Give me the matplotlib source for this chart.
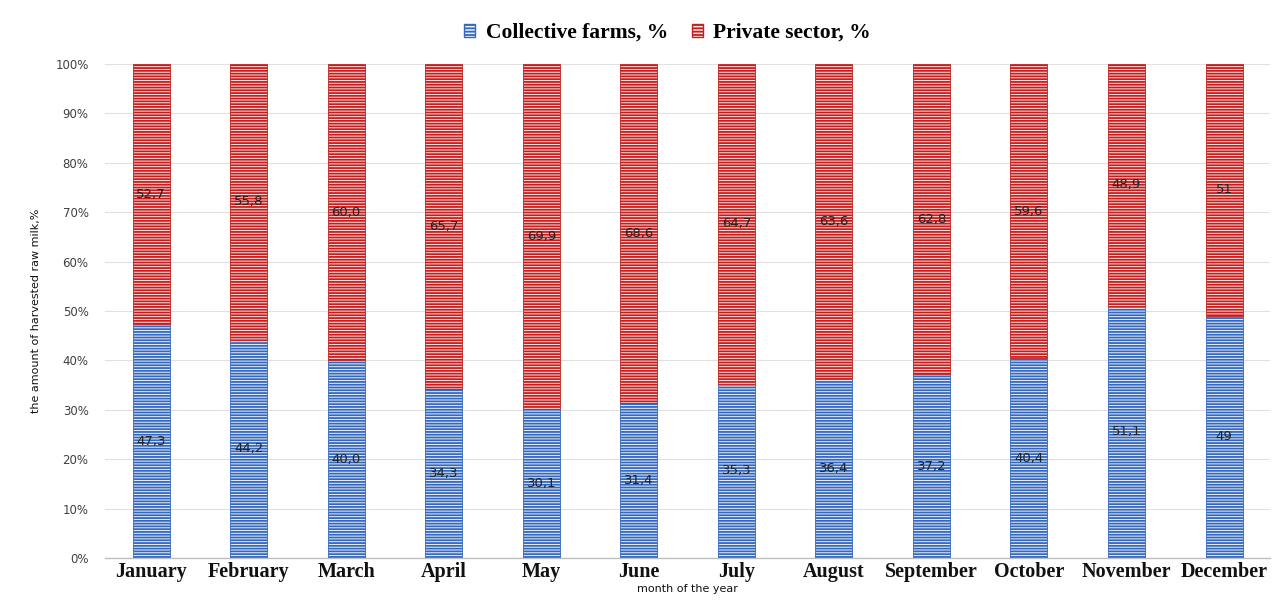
import matplotlib
matplotlib.use("Agg")
import matplotlib.pyplot as plt
import numpy as np
from matplotlib.patches import Patch

months = ["January", "February", "March", "April", "May", "June", "July",
          "August", "September", "October", "November", "December"]
collective = [47.3, 44.2, 40.0, 34.3, 30.1, 31.4, 35.3, 36.4, 37.2, 40.4, 51.1, 49]
private = [52.7, 55.8, 60.0, 65.7, 69.9, 68.6, 64.7, 63.6, 62.8, 59.6, 48.9, 51]
collective_labels = ["47,3", "44,2", "40,0", "34,3", "30,1", "31,4", "35,3",
                     "36,4", "37,2", "40,4", "51,1", "49"]
private_labels = ["52,7", "55,8", "60,0", "65,7", "69,9", "68,6", "64,7",
                  "63,6", "62,8", "59,6", "48,9", "51"]
yticks = [0, 10, 20, 30, 40, 50, 60, 70, 80, 90, 100]

plt.rcParams['hatch.linewidth'] = 1.3

fig = plt.figure(figsize=(12.84, 6.01), dpi=100)
ax = fig.add_axes([0.082, 0.0715, 0.907, 0.822])

x = np.arange(len(months))
w = 0.38
blue_edge = "#3368bd"
red_edge = "#c41e1e"
b1 = ax.bar(x, collective, w, facecolor="#eef2f9", edgecolor=blue_edge,
            hatch="------", linewidth=0.6, zorder=3)
b2 = ax.bar(x, private, w, bottom=collective, facecolor="#f9e6e6",
            edgecolor=red_edge, hatch="------", linewidth=0.6, zorder=3)

for i in range(len(months)):
    ax.text(x[i], collective[i] / 2, collective_labels[i], ha="center",
            va="center", fontsize=9.5, color="#222222", zorder=5)
    ax.text(x[i], collective[i] + private[i] / 2, private_labels[i], ha="center",
            va="center", fontsize=9.5, color="#222222", zorder=5)

ax.set_xlim(-0.47, len(months) - 0.53)
ax.set_ylim(0, 100)
ax.set_yticks(yticks)
ax.set_yticklabels([f"{v}%" for v in yticks], fontsize=8.5, color="#404040")
ax.set_xticks(x)
ax.set_xticklabels(months, fontsize=14.5, fontweight="bold",
                   family="Liberation Serif", color="#111111")
ax.tick_params(axis="both", length=0)
ax.tick_params(axis="x", pad=3)
ax.tick_params(axis="y", pad=12)
ax.grid(axis="y", color="#e0e0e0", linewidth=0.8, zorder=0)
for s in ["top", "right", "left"]:
    ax.spines[s].set_visible(False)
ax.spines["bottom"].set_color("#bfbfbf")
ax.spines["bottom"].set_linewidth(1.0)

ax.set_xlabel("month of the year", fontsize=8, color="#111111", labelpad=1)
ax.set_ylabel("the amount of harvested raw milk,%", fontsize=8, color="#111111",
              labelpad=10)

handles = [Patch(facecolor="#eef2f9", edgecolor=blue_edge, hatch="-----"),
           Patch(facecolor="#f9e6e6", edgecolor=red_edge, hatch="-----")]
fig.legend(handles, ["Collective farms, %", "Private sector, %"],
           loc="center", bbox_to_anchor=(0.52, 0.945), ncol=2, frameon=False,
           prop={"family": "Liberation Serif", "weight": "bold", "size": 15.5},
           handlelength=0.5, handleheight=0.5, columnspacing=1.1, handletextpad=0.5)

fig.savefig("out.png", dpi=100, facecolor="white")
